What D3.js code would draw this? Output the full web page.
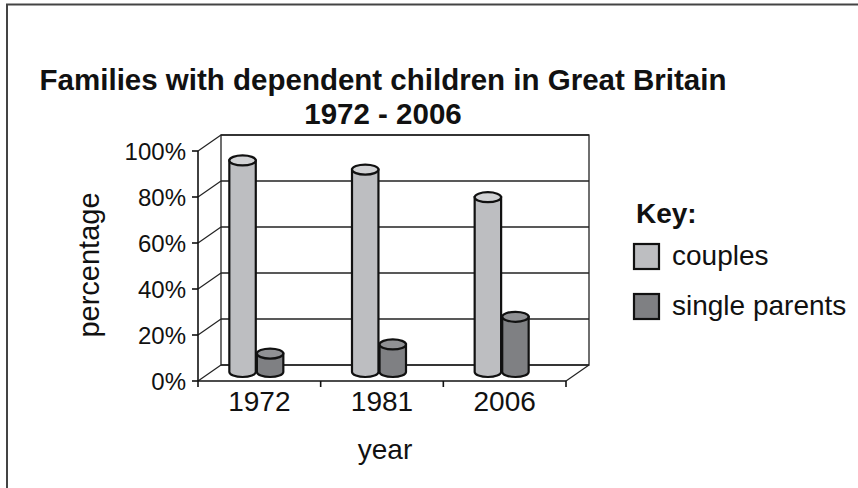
<!DOCTYPE html>
<meta charset="utf-8">
<style>
  body { margin: 0; background: #fff; }
  svg { font-family: 'Liberation Sans', Arial, sans-serif; }
</style>
<script src="https://d3js.org/d3.v7.min.js"></script>
<body>
<svg id="chart" width="858" height="488"></svg>
<script>
// data
var years = ["1972", "1981", "2006"];
var series = ["couples", "single parents"];
var couples = [92, 88, 76];
var singleParents = [8, 12, 24];
var yTicks = [0, 20, 40, 60, 80, 100];

var colors = {
  "couples": { body: "#bdbec1", top: "#d2d3d5" },
  "single parents": { body: "#7f8083", top: "#909194" }
};

var svg = d3.select("#chart");

// outer frame (only top and left visible)
svg.append("path")
  .attr("d", "M7,488 L7,4.5 L858,4.5")
  .attr("fill", "none").attr("stroke", "#444").attr("stroke-width", 2);

// front plane scales
var x = d3.scaleBand().domain(years).range([198, 566]);
var y = d3.scaleLinear().domain([0, 100]).range([381, 151]);
var depth = { dx: 23, dy: -16 };      // back wall offset
var barOff = { dx: -1, dy: -9 };      // plane the cylinders stand on

var grid = svg.append("g").attr("stroke", "#222").attr("stroke-width", 1.3).attr("fill", "none");

// back wall
grid.append("rect")
  .attr("x", x.range()[0] + depth.dx).attr("y", y(100) + depth.dy)
  .attr("width", x.range()[1] - x.range()[0]).attr("height", y(0) - y(100));

yTicks.forEach(function(t) {
  grid.append("line")
    .attr("x1", 198 + depth.dx).attr("x2", 566 + depth.dx)
    .attr("y1", y(t) + depth.dy).attr("y2", y(t) + depth.dy);
  grid.append("line")
    .attr("x1", 198).attr("x2", 198 + depth.dx)
    .attr("y1", y(t)).attr("y2", y(t) + depth.dy);
});

// floor right edge
grid.append("line")
  .attr("x1", 566).attr("y1", y(0)).attr("x2", 566 + depth.dx).attr("y2", y(0) + depth.dy);

// front axes
var axisG = svg.append("g").attr("stroke", "#111").attr("stroke-width", 1.6);
axisG.append("line").attr("x1", 198).attr("x2", 198).attr("y1", y(0)).attr("y2", y(100));
axisG.append("line").attr("x1", 198).attr("x2", 566).attr("y1", y(0)).attr("y2", y(0));
yTicks.forEach(function(t) {
  axisG.append("line").attr("x1", 192).attr("x2", 198).attr("y1", y(t)).attr("y2", y(t));
});
x.domain().forEach(function(d) {
  axisG.append("line").attr("x1", x(d)).attr("x2", x(d)).attr("y1", y(0)).attr("y2", y(0) + 6);
});
axisG.append("line").attr("x1", 566).attr("x2", 566).attr("y1", y(0)).attr("y2", y(0) + 6);

// cylinders
var sub = d3.scaleBand().domain(series).range([-29, 25]).paddingInner(0.04);
var rows = [];
years.forEach(function(yr, i) {
  rows.push({ year: yr, s: "couples", v: couples[i] });
  rows.push({ year: yr, s: "single parents", v: singleParents[i] });
});
var ry = 5;
var cyl = svg.append("g").selectAll("g").data(rows).join("g");
cyl.each(function(d) {
  var g = d3.select(this);
  var x0 = x(d.year) + x.bandwidth() / 2 + sub(d.s) + barOff.dx;
  var w = sub.bandwidth();
  var yb = y(0) + barOff.dy;
  var yt = y(d.v) + barOff.dy;
  var rx = w / 2;
  g.append("path")
    .attr("d", "M" + x0 + "," + yt + " L" + x0 + "," + yb +
      " A" + rx + "," + ry + " 0 0 0 " + (x0 + w) + "," + yb +
      " L" + (x0 + w) + "," + yt + " Z")
    .attr("fill", colors[d.s].body).attr("stroke", "#111").attr("stroke-width", 2.2);
  g.append("ellipse")
    .attr("cx", x0 + rx).attr("cy", yt).attr("rx", rx).attr("ry", ry)
    .attr("fill", colors[d.s].top).attr("stroke", "#111").attr("stroke-width", 2.2);
});

// tick labels
svg.append("g").selectAll("text").data(yTicks).join("text")
  .attr("x", 186).attr("y", function(d) { return y(d); })
  .attr("dy", "0.36em").attr("text-anchor", "end")
  .attr("font-size", 24).attr("fill", "#111")
  .text(function(d) { return d + "%"; });

svg.append("g").selectAll("text").data(years).join("text")
  .attr("x", function(d) { return x(d) + x.bandwidth() / 2; }).attr("y", 411)
  .attr("text-anchor", "middle").attr("font-size", 28).attr("fill", "#111")
  .text(function(d) { return d; });

// axis titles
svg.append("text").attr("transform", "translate(99,265) rotate(-90)")
  .attr("text-anchor", "middle").attr("font-size", 29).attr("fill", "#111").text("percentage");
svg.append("text").attr("x", 385).attr("y", 459)
  .attr("text-anchor", "middle").attr("font-size", 28).attr("fill", "#111").text("year");

// title
var title = svg.append("text").attr("text-anchor", "middle").attr("font-weight", "bold")
  .attr("font-size", 29.5).attr("fill", "#111");
title.append("tspan").attr("x", 383).attr("y", 90).text("Families with dependent children in Great Britain");
title.append("tspan").attr("x", 383).attr("y", 124).text("1972 - 2006");

// legend
var leg = svg.append("g").attr("transform", "translate(634,0)");
leg.append("text").attr("x", 2).attr("y", 223).attr("font-size", 28).attr("font-weight", "bold")
  .attr("fill", "#111").text("Key:");
var li = leg.selectAll("g.item").data(series).join("g").attr("class", "item")
  .attr("transform", function(d, i) { return "translate(0," + (244 + i * 50) + ")"; });
li.append("rect").attr("x", 0).attr("y", 0).attr("width", 25).attr("height", 25)
  .attr("fill", function(d) { return colors[d].body; })
  .attr("stroke", "#111").attr("stroke-width", 2.2);
li.append("text").attr("x", 38).attr("y", 21).attr("font-size", 28).attr("fill", "#111")
  .text(function(d) { return d; });
</script>
</body>
